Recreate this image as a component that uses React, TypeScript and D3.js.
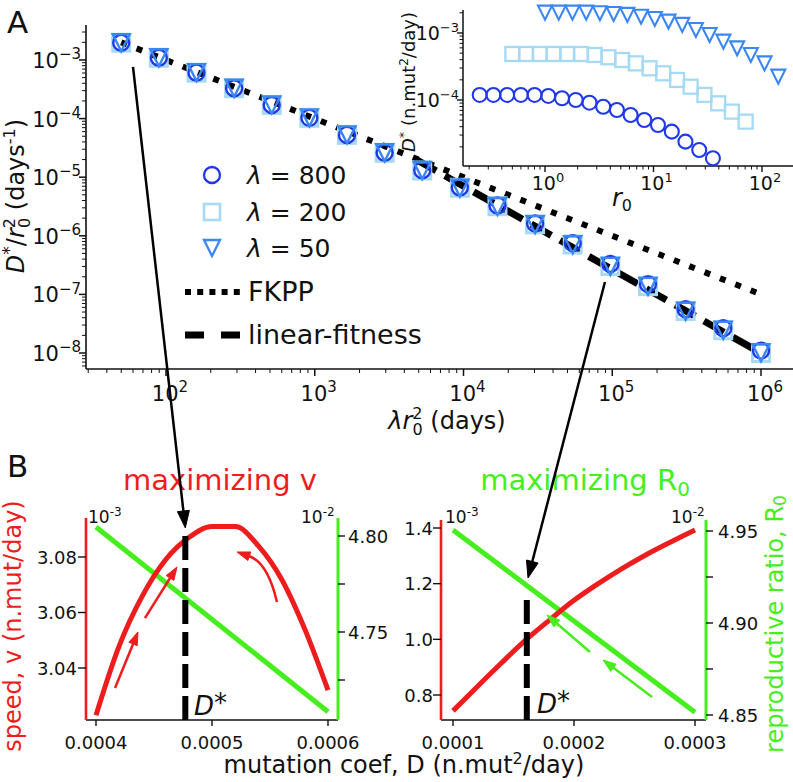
import React from "react";
import * as d3 from "d3";

const W = 793, H = 782;
const FONT = "DejaVu Sans, Verdana, sans-serif";
const RED = "#ee1d1d";
const GREEN = "#45ee1c";
const C800 = "#2038ea";
const C200 = "#a6daf4";
const C50 = "#3a86f4";

// ---------- Panel A data ----------
const lamR2 = [50, 89.5, 160.3, 287.0, 513.8, 919.9, 1647, 2949, 5280, 9451, 16920, 30290, 54240, 97100, 173900, 311300, 557300, 1000000];
const dStar50 = [1.97e-3, 1.09e-3, 6.08e-4, 3.3e-4, 1.71e-4, 1.03e-4, 5.27e-5, 2.61e-5, 1.3e-5, 6.52e-6, 3.17e-6, 1.55e-6, 7.05e-7, 3.01e-7, 1.37e-7, 5.15e-8, 2.44e-8, 1.01e-8];
const dStar200 = [1.97e-3, 1.09e-3, 6.08e-4, 3.3e-4, 1.71e-4, 1.03e-4, 5.27e-5, 2.61e-5, 1.3e-5, 6.6e-6, 3.2e-6, 1.57e-6, 7.1e-7, 3.05e-7, 1.38e-7, 5.2e-8, 2.45e-8, 1.0e-8];
const dStar800 = [1.97e-3, 1.09e-3, 6.08e-4, 3.3e-4, 1.71e-4, 1.03e-4, 5.27e-5, 2.61e-5, 1.32e-5, 6.7e-6, 3.3e-6, 1.62e-6, 7.5e-7, 3.3e-7, 1.5e-7, 5.6e-8, 2.65e-8, 1.1e-8];
const fkppX = [50, 1000000];
const fkppY = [2.0e-3, 1.0e-7];
const linX = [4800, 1000000];
const linY = [2.0e-5, 1.0e-8];
const xMajA = [2, 3, 4, 5, 6];
const yMajA = [-3, -4, -5, -6, -7, -8];

// ---------- Inset data ----------
const r0_50 = [1, 1.338, 1.79, 2.396, 3.206, 4.289, 5.739, 7.68, 10.28, 13.75, 18.4, 24.6, 32.9, 44.1, 59.0, 78.9, 105.6, 141.3];
const r0_200 = [0.5, 0.669, 0.895, 1.198, 1.603, 2.145, 2.87, 3.84, 5.14, 6.87, 9.2, 12.3, 16.5, 22.0, 29.5, 39.5, 52.8, 70.7];
const r0_800 = [0.25, 0.3345, 0.4475, 0.599, 0.8015, 1.072, 1.435, 1.92, 2.57, 3.44, 4.6, 6.15, 8.23, 11.0, 14.75, 19.7, 26.4, 35.3];
const inD50 = [2.01e-3, 2.01e-3, 2.01e-3, 2.01e-3, 1.97e-3, 1.92e-3, 1.86e-3, 1.75e-3, 1.62e-3, 1.48e-3, 1.32e-3, 1.11e-3, 9.33e-4, 7.43e-4, 5.9e-4, 4.7e-4, 3.52e-4, 2.23e-4];
const inD200 = [4.86e-4, 4.86e-4, 4.86e-4, 4.86e-4, 4.86e-4, 4.86e-4, 4.7e-4, 4.34e-4, 3.95e-4, 3.52e-4, 2.97e-4, 2.5e-4, 1.99e-4, 1.58e-4, 1.19e-4, 8.92e-5, 6.7e-5, 4.75e-5];
const inD800 = [1.19e-4, 1.19e-4, 1.19e-4, 1.19e-4, 1.19e-4, 1.15e-4, 1.06e-4, 1.0e-4, 9.12e-5, 7.94e-5, 7.1e-5, 5.97e-5, 5.02e-5, 4.23e-5, 3.37e-5, 2.39e-5, 1.79e-5, 1.35e-5];
const xMajI = [0, 1, 2];
const yMajI = [-3, -4];

// ---------- Panel B data ----------
const dLeft = [0.0004, 0.00042, 0.00044, 0.00046, 0.00048, 0.0005, 0.00052, 0.00054, 0.00056, 0.00058, 0.0006];
const vLeft = [3.023, 3.048, 3.066, 3.079, 3.087, 3.091, 3.091, 3.084, 3.072, 3.054, 3.032];
const dLeftR0 = [0.0004, 0.0006];
const r0Left = [4.8047, 4.7085];
const dStarLeft = 0.000477;
const dRight = [0.0001, 0.00012, 0.00014, 0.00016, 0.00018, 0.0002, 0.00022, 0.00024, 0.00026, 0.00028, 0.0003];
const vRight = [0.743, 0.83, 0.915, 0.997, 1.07, 1.14, 1.2, 1.255, 1.305, 1.35, 1.393];
const dRightR0 = [0.0001, 0.0003];
const r0Right = [4.9505, 4.8515];
const dStarRight = 0.000161;
const xTicksBL = [0.0004, 0.0005, 0.0006];
const yTicksBL = [3.04, 3.06, 3.08];
const yTicksBLr = [4.725, 4.75, 4.775, 4.8];
const xTicksBR = [0.0001, 0.0002, 0.0003];
const yTicksBR = [0.8, 1.0, 1.2, 1.4];
const yTicksBRr = [4.85, 4.875, 4.9, 4.925, 4.95];

// ---------- scales ----------
const xA = d3.scaleLog().domain([Math.pow(10, 1.4622), Math.pow(10, 6.215)]).range([86, 793]);
const yA = d3.scaleLog().domain([Math.pow(10, -8.273), Math.pow(10, -2.403)]).range([369, 25]);
const xI = d3.scaleLog().domain([Math.pow(10, -0.756), Math.pow(10, 2.286)]).range([463, 793]);
const yI = d3.scaleLog().domain([Math.pow(10, -4.985), Math.pow(10, -2.657)]).range([166, 10]);

const xBL = d3.scaleLinear().domain([0.0004, 0.0006]).range([96, 328]);
const yBL = d3.scaleLinear().domain([3.04, 3.08]).range([668, 557]);
const yBLr = d3.scaleLinear().domain([4.75, 4.8]).range([632, 536]);
const xBR = d3.scaleLinear().domain([0.0001, 0.0003]).range([453, 695]);
const yBR = d3.scaleLinear().domain([0.8, 1.4]).range([695, 528]);
const yBRr = d3.scaleLinear().domain([4.85, 4.95]).range([715, 531]);

function logTicks(lo: number, hi: number) {
  const out: { v: number; major: boolean }[] = [];
  const e0 = Math.floor(Math.log10(lo)), e1 = Math.ceil(Math.log10(hi));
  for (let e = e0; e <= e1; e++) {
    for (let m = 1; m <= 9; m++) {
      const v = m * Math.pow(10, e);
      if (v >= lo && v <= hi) out.push({ v, major: m === 1 });
    }
  }
  return out;
}

function head(x2: number, y2: number, fx: number, fy: number, len: number, w: number) {
  const dx = x2 - fx, dy = y2 - fy;
  const L = Math.hypot(dx, dy);
  const ux = dx / L, uy = dy / L;
  const bx = x2 - ux * len, by = y2 - uy * len;
  const px = -uy, py = ux;
  return {
    d: `M${x2},${y2}L${bx + (px * w) / 2},${by + (py * w) / 2}L${bx - (px * w) / 2},${by - (py * w) / 2}Z`,
    bx, by,
  };
}

function Arrow({ x1, y1, x2, y2, color, sw, len, w, cx, cy }: any) {
  const fromX = cx !== undefined ? cx : x1;
  const fromY = cy !== undefined ? cy : y1;
  const h = head(x2, y2, fromX, fromY, len, w);
  const d = cx !== undefined ? `M${x1},${y1}Q${cx},${cy} ${h.bx},${h.by}` : `M${x1},${y1}L${h.bx},${h.by}`;
  return (
    <g>
      <path d={d} fill="none" stroke={color} strokeWidth={sw} />
      <path d={h.d} fill={color} stroke={color} strokeWidth={1} strokeLinejoin="miter" />
    </g>
  );
}

function triPath(cx: number, cy: number, s: number) {
  const h = s / 2;
  return `M${cx - h},${cy - h}L${cx + h},${cy - h}L${cx},${cy + h}Z`;
}

function Markers({ xs, ys, sx, sy, kind, color, size, sw }: any) {
  return (
    <g>
      {xs.map((x: number, i: number) => {
        const cx = sx(x), cy = sy(ys[i]);
        if (kind === "o") return <circle key={i} cx={cx} cy={cy} r={size / 2} fill="none" stroke={color} strokeWidth={sw} />;
        if (kind === "s") return <rect key={i} x={cx - size / 2} y={cy - size / 2} width={size} height={size} fill="none" stroke={color} strokeWidth={sw} />;
        return <path key={i} d={triPath(cx, cy, size)} fill="none" stroke={color} strokeWidth={sw} strokeLinejoin="miter" />;
      })}
    </g>
  );
}

function Pow({ x, y, base, exp, size, sup, anchor, fill }: any) {
  return (
    <text x={x} y={y} fontSize={size} textAnchor={anchor || "start"} fill={fill || "#111"}>
      <tspan>{base}</tspan>
      <tspan dy={-size * 0.42} fontSize={sup}>{exp}</tspan>
    </text>
  );
}

export default function App() {
  const fkppPath = d3.line<number>().x((d) => xA(d)).y((d, i) => yA(fkppY[i]))(fkppX) || "";
  const linPath = d3.line<number>().x((d) => xA(d)).y((d, i) => yA(linY[i]))(linX) || "";

  const ticksAx = logTicks(xA.domain()[0], xA.domain()[1]);
  const ticksAy = logTicks(yA.domain()[0], yA.domain()[1]);
  const ticksIx = logTicks(xI.domain()[0], xI.domain()[1]);
  const ticksIy = logTicks(yI.domain()[0], yI.domain()[1]);

  const redL = d3.line<number>().curve(d3.curveMonotoneX).x((d) => xBL(d)).y((d, i) => yBL(vLeft[i]))(dLeft) || "";
  const greenL = d3.line<number>().x((d) => xBL(d)).y((d, i) => yBLr(r0Left[i]))(dLeftR0) || "";
  const redR = d3.line<number>().curve(d3.curveMonotoneX).x((d) => xBR(d)).y((d, i) => yBR(vRight[i]))(dRight) || "";
  const greenR = d3.line<number>().x((d) => xBR(d)).y((d, i) => yBRr(r0Right[i]))(dRightR0) || "";

  const BL = { l: 86, r: 338, t: 518, b: 720 };
  const BR = { l: 441, r: 706, t: 520, b: 720 };

  // annotation arrows (data coordinates)
  const a1 = { x1: xA(60), y1: yA(7.6e-4), x2: xBL(dStarLeft), y2: yBL(3.0905) };
  const a2 = { x1: xA(89300), y1: yA(1.63e-7), x2: xBR(0.000162), y2: yBR(1.2204) };

  return (
    <svg width={W} height={H} style={{ position: "absolute", left: 0, top: 0, background: "#fff" }} fontFamily={FONT}>
      <rect width={W} height={H} fill="#fff" />
      {/* ================= Panel A ================= */}
      <text x={7} y={33} fontSize={31} fill="#111">A</text>
      <line x1={86} x2={86} y1={25} y2={369} stroke="#111" strokeWidth={1.6} />
      <line x1={86} x2={793} y1={369} y2={369} stroke="#111" strokeWidth={1.6} />
      {ticksAx.map((t, i) => (
        <line key={"ax" + i} x1={xA(t.v)} x2={xA(t.v)} y1={369} y2={369 + (t.major ? 7 : 4)} stroke="#111" strokeWidth={t.major ? 1.5 : 1} />
      ))}
      {ticksAy.map((t, i) => (
        <line key={"ay" + i} x1={86} x2={86 - (t.major ? 7 : 4)} y1={yA(t.v)} y2={yA(t.v)} stroke="#111" strokeWidth={t.major ? 1.5 : 1} />
      ))}
      {xMajA.map((e) => (
        <Pow key={"xl" + e} x={xA(Math.pow(10, e)) + 4} y={401} base="10" exp={String(e)} size={21} sup={15} anchor="middle" />
      ))}
      {yMajA.map((e) => (
        <Pow key={"yl" + e} x={81} y={yA(Math.pow(10, e)) + 8} base="10" exp={"\u2212" + Math.abs(e)} size={21} sup={15} anchor="end" />
      ))}
      <text transform="translate(24,196) rotate(-90)" fontSize={24} textAnchor="middle" fill="#111">
        <tspan fontStyle="italic">D</tspan>
        <tspan dy={-9} fontSize={17}>*</tspan>
        <tspan dy={9}>/</tspan>
        <tspan fontStyle="italic">r</tspan>
        <tspan dy={-9} fontSize={16}>2</tspan>
        <tspan dx={-10} dy={15} fontSize={16}>0</tspan>
        <tspan dy={-6}> (days</tspan>
        <tspan dy={-9} fontSize={16}>-1</tspan>
        <tspan dy={9}>)</tspan>
      </text>
      <text x={447} y={429} fontSize={24} textAnchor="middle" fill="#111">
        <tspan fontStyle="italic">λr</tspan>
        <tspan dy={-10} fontSize={16}>2</tspan>
        <tspan dx={-10} dy={16} fontSize={16}>0</tspan>
        <tspan dy={-6}> (days)</tspan>
      </text>
      <path d={fkppPath} fill="none" stroke="#000" strokeWidth={6} strokeDasharray="6 10.5" />
      <path d={linPath} fill="none" stroke="#000" strokeWidth={7} strokeDasharray="23 10" />
      <Markers xs={lamR2} ys={dStar200} sx={xA} sy={yA} kind="s" color={C200} size={17} sw={3} />
      <Markers xs={lamR2} ys={dStar800} sx={xA} sy={yA} kind="o" color={C800} size={16} sw={2.4} />
      <Markers xs={lamR2} ys={dStar50} sx={xA} sy={yA} kind="v" color={C50} size={17} sw={2.4} />
      {/* legend */}
      <circle cx={212} cy={175} r={8} fill="none" stroke={C800} strokeWidth={2.3} />
      <rect x={204} y={204} width={16} height={16} fill="none" stroke={C200} strokeWidth={2.6} />
      <path d={triPath(212, 248, 16)} fill="none" stroke={C50} strokeWidth={2.3} />
      {[["800", 184], ["200", 221], ["50", 257]].map(([v, y]) => (
        <text key={v as string} x={247} y={y as number} fontSize={25} fill="#111">
          <tspan fontStyle="italic">λ</tspan>
          <tspan> = {v}</tspan>
        </text>
      ))}
      <line x1={185} x2={240} y1={292} y2={292} stroke="#000" strokeWidth={6} strokeDasharray="6 6.2" />
      <text x={248} y={301} fontSize={27} fill="#111">FKPP</text>
      <line x1={185} x2={240} y1={335} y2={335} stroke="#000" strokeWidth={7} strokeDasharray="19 17" />
      <text x={248} y={344} fontSize={27} fill="#111">linear-fitness</text>

      {/* ================= Inset ================= */}
      <line x1={463} x2={463} y1={10} y2={166} stroke="#111" strokeWidth={1.5} />
      <line x1={463} x2={793} y1={166} y2={166} stroke="#111" strokeWidth={1.5} />
      {ticksIx.map((t, i) => (
        <line key={"ix" + i} x1={xI(t.v)} x2={xI(t.v)} y1={166} y2={166 + (t.major ? 6 : 3.5)} stroke="#111" strokeWidth={t.major ? 1.4 : 1} />
      ))}
      {ticksIy.map((t, i) => (
        <line key={"iy" + i} x1={463} x2={463 - (t.major ? 6 : 3.5)} y1={yI(t.v)} y2={yI(t.v)} stroke="#111" strokeWidth={t.major ? 1.4 : 1} />
      ))}
      {xMajI.map((e) => (
        <Pow key={"ixl" + e} x={xI(Math.pow(10, e)) + 3} y={190} base="10" exp={String(e)} size={19} sup={13} anchor="middle" />
      ))}
      {yMajI.map((e) => (
        <Pow key={"iyl" + e} x={459} y={yI(Math.pow(10, e)) + 7} base="10" exp={"\u2212" + Math.abs(e)} size={19} sup={13} anchor="end" />
      ))}
      <text x={622} y={206} fontSize={24} textAnchor="middle" fill="#111">
        <tspan fontStyle="italic">r</tspan>
        <tspan dy={5} fontSize={16}>0</tspan>
      </text>
      <text transform="translate(415,82) rotate(-90)" fontSize={18} textAnchor="middle" fill="#111">
        <tspan fontStyle="italic">D</tspan>
        <tspan dy={-7} fontSize={13}>*</tspan>
        <tspan dy={7}> (n.mut</tspan>
        <tspan dy={-7} fontSize={12}>2</tspan>
        <tspan dy={7}>/day)</tspan>
      </text>
      <Markers xs={r0_800} ys={inD800} sx={xI} sy={yI} kind="o" color={C800} size={14} sw={2.1} />
      <Markers xs={r0_200} ys={inD200} sx={xI} sy={yI} kind="s" color={C200} size={14} sw={2.3} />
      <Markers xs={r0_50} ys={inD50} sx={xI} sy={yI} kind="v" color={C50} size={14} sw={2.1} />

      {/* ================= Panel B ================= */}
      <text x={7} y={477} fontSize={31} fill="#111">B</text>
      <text x={220} y={490} fontSize={29} textAnchor="middle" fill={RED}>maximizing v</text>
      <text x={585} y={490} fontSize={29} textAnchor="middle" fill={GREEN}>
        <tspan>maximizing R</tspan>
        <tspan dy={6} fontSize={20}>0</tspan>
      </text>

      {/* left sub-panel */}
      <line x1={BL.l} x2={BL.r} y1={BL.b} y2={BL.b} stroke="#111" strokeWidth={1.5} />
      <line x1={BL.l} x2={BL.l} y1={BL.t} y2={BL.b} stroke={RED} strokeWidth={2.6} />
      <line x1={BL.r} x2={BL.r} y1={BL.t} y2={BL.b} stroke={GREEN} strokeWidth={3} />
      {xTicksBL.map((t) => (
        <g key={"bxl" + t}>
          <line x1={xBL(t)} x2={xBL(t)} y1={BL.b} y2={BL.b + 6} stroke="#111" strokeWidth={1.4} />
          <text x={xBL(t)} y={749} fontSize={18} textAnchor="middle" fill="#111">{t.toFixed(4)}</text>
        </g>
      ))}
      {yTicksBL.map((t) => (
        <g key={"byl" + t}>
          <line x1={BL.l} x2={BL.l - 8} y1={yBL(t)} y2={yBL(t)} stroke="#111" strokeWidth={1.4} />
          <text x={77} y={yBL(t) + 6.5} fontSize={18} textAnchor="end" fill="#111">{t.toFixed(2)}</text>
        </g>
      ))}
      {yTicksBLr.map((t, i) => (
        <g key={"bylr" + t}>
          <line x1={BL.r} x2={BL.r + 7} y1={yBLr(t)} y2={yBLr(t)} stroke="#111" strokeWidth={1.4} />
          {i % 2 === 1 && <text x={348} y={yBLr(t) + 6.5} fontSize={18} fill="#111">{t.toFixed(2)}</text>}
        </g>
      ))}
      <path d={greenL} fill="none" stroke={GREEN} strokeWidth={5} />
      <path d={redL} fill="none" stroke={RED} strokeWidth={5} strokeLinejoin="miter" />
      <line x1={xBL(dStarLeft)} x2={xBL(dStarLeft)} y1={BL.b} y2={yBL(3.089)} stroke="#000" strokeWidth={6} strokeDasharray="24 8" />
      <text x={194} y={715} fontSize={26} fill="#111">
        <tspan fontStyle="italic">D</tspan>
        <tspan dy={-3}>*</tspan>
      </text>
      <Pow x={88} y={523} base="10" exp="-3" size={17} sup={12} />
      <Pow x={301} y={523} base="10" exp="-2" size={17} sup={12} />
      <Arrow x1={xBL(0.0004164)} y1={yBL(3.0328)} x2={xBL(0.0004362)} y2={yBL(3.053)} color={RED} sw={2.5} len={13} w={9} />
      <Arrow x1={xBL(0.0004422)} y1={yBL(3.058)} x2={xBL(0.0004698)} y2={yBL(3.0764)} color={RED} sw={2.5} len={13} w={9} />
      <Arrow x1={xBL(0.000556)} y1={yBL(3.0638)} x2={xBL(0.0005216)} y2={yBL(3.0818)} cx={xBL(0.000548)} cy={yBL(3.078)} color={RED} sw={2.5} len={13} w={9} />

      {/* right sub-panel */}
      <line x1={BR.l} x2={BR.r} y1={BR.b} y2={BR.b} stroke="#111" strokeWidth={1.5} />
      <line x1={BR.l} x2={BR.l} y1={BR.t} y2={BR.b} stroke={RED} strokeWidth={2.6} />
      <line x1={BR.r} x2={BR.r} y1={BR.t} y2={BR.b} stroke={GREEN} strokeWidth={3} />
      {xTicksBR.map((t) => (
        <g key={"bxr" + t}>
          <line x1={xBR(t)} x2={xBR(t)} y1={BR.b} y2={BR.b + 6} stroke="#111" strokeWidth={1.4} />
          <text x={xBR(t)} y={749} fontSize={18} textAnchor="middle" fill="#111">{t.toFixed(4)}</text>
        </g>
      ))}
      {yTicksBR.map((t) => (
        <g key={"byr" + t}>
          <line x1={BR.l} x2={BR.l - 8} y1={yBR(t)} y2={yBR(t)} stroke="#111" strokeWidth={1.4} />
          <text x={433} y={yBR(t) + 6.5} fontSize={18} textAnchor="end" fill="#111">{t.toFixed(1)}</text>
        </g>
      ))}
      {yTicksBRr.map((t, i) => (
        <g key={"byrr" + t}>
          <line x1={BR.r} x2={BR.r + 7} y1={yBRr(t)} y2={yBRr(t)} stroke="#111" strokeWidth={1.4} />
          {i % 2 === 0 && <text x={718} y={yBRr(t) + 6.5} fontSize={18} fill="#111">{t.toFixed(2)}</text>}
        </g>
      ))}
      <path d={greenR} fill="none" stroke={GREEN} strokeWidth={5} />
      <path d={redR} fill="none" stroke={RED} strokeWidth={5} />
      <line x1={xBR(dStarRight)} x2={xBR(dStarRight)} y1={BR.b} y2={yBR(1.152)} stroke="#000" strokeWidth={6} strokeDasharray="24 8" />
      <text x={537} y={713} fontSize={26} fill="#111">
        <tspan fontStyle="italic">D</tspan>
        <tspan dy={-3}>*</tspan>
      </text>
      <Pow x={445} y={523} base="10" exp="-3" size={17} sup={12} />
      <Pow x={671} y={523} base="10" exp="-2" size={17} sup={12} />
      <Arrow x1={xBR(0.0002132)} y1={yBRr(4.8842)} x2={xBR(0.0001777)} y2={yBRr(4.9043)} color={GREEN} sw={2.5} len={13} w={9} />
      <Arrow x1={xBR(0.0002645)} y1={yBRr(4.8598)} x2={xBR(0.000224)} y2={yBRr(4.8799)} color={GREEN} sw={2.5} len={13} w={9} />

      {/* axis labels B */}
      <text transform="translate(21,626) rotate(-90)" fontSize={24} textAnchor="middle" fill={RED}>speed, v (n.mut/day)</text>
      <text transform="translate(783,624) rotate(-90)" fontSize={24} textAnchor="middle" fill={GREEN}>
        <tspan>reproductive ratio, R</tspan>
        <tspan dy={3} fontSize={17}>0</tspan>
      </text>
      <text x={404} y={773} fontSize={24} textAnchor="middle" fill="#111">
        <tspan>mutation coef, D (n.mut</tspan>
        <tspan dy={-9} fontSize={16}>2</tspan>
        <tspan dy={9}>/day)</tspan>
      </text>

      {/* connecting arrows */}
      <Arrow x1={a1.x1} y1={a1.y1} x2={a1.x2} y2={a1.y2} color="#000" sw={2.5} len={17} w={12} />
      <Arrow x1={a2.x1} y1={a2.y1} x2={a2.x2} y2={a2.y2} color="#000" sw={2.5} len={17} w={12} />
    </svg>
  );
}
